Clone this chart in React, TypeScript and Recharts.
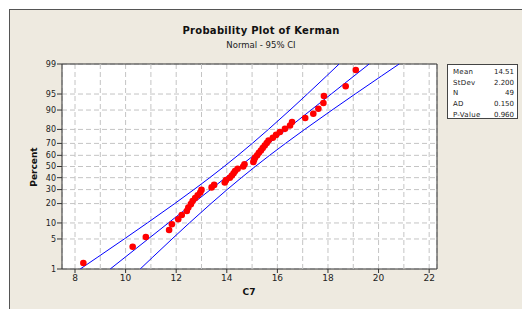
import React from "react";
import {
  ComposedChart,
  XAxis,
  YAxis,
  CartesianGrid,
  Line,
  Scatter,
  ReferenceLine,
  ReferenceArea,
} from "recharts";

// ---- data ----
const samplePercents = [
  1.42, 3.44, 5.47, 7.49, 9.51, 11.54, 13.56, 15.59, 17.61, 19.64, 21.66, 23.68,
  25.71, 27.73, 29.76, 31.78, 33.81, 35.83, 37.85, 39.88, 41.9, 43.93, 45.95,
  47.98, 50.0, 52.02, 54.05, 56.07, 58.1, 60.12, 62.15, 64.17, 66.19, 68.22,
  70.24, 72.27, 74.29, 76.32, 78.34, 80.36, 82.39, 84.41, 86.44, 88.46, 90.49,
  92.51, 94.53, 96.56, 98.58,
];
const sampleValues = [
  8.33, 10.28, 10.8, 11.72, 11.83, 12.08, 12.22, 12.42, 12.48, 12.58, 12.65,
  12.75, 12.85, 12.95, 13.0, 13.4, 13.5, 13.92, 13.97, 14.12, 14.2, 14.27,
  14.33, 14.43, 14.65, 14.7, 15.05, 15.08, 15.12, 15.2, 15.27, 15.35, 15.42,
  15.5, 15.58, 15.65, 15.82, 15.95, 16.1, 16.3, 16.5, 16.58, 17.1, 17.42,
  17.62, 17.82, 17.84, 18.7, 19.1,
];

const linePercents = [1, 2, 5, 10, 20, 30, 40, 50, 60, 70, 80, 90, 95, 98, 99];
const fitValues = [
  9.392, 9.992, 10.891, 11.69, 12.658, 13.356, 13.953, 14.51, 15.067, 15.664,
  16.362, 17.33, 18.129, 19.028, 19.628,
];
const lowerValues = [
  8.206, 8.906, 9.946, 10.859, 11.941, 12.699, 13.327, 13.894, 14.441, 15.007,
  15.645, 16.499, 17.184, 17.942, 18.442,
];
const upperValues = [
  10.578, 11.078, 11.836, 12.521, 13.375, 14.013, 14.579, 15.126, 15.693,
  16.321, 17.079, 18.161, 19.074, 20.114, 20.814,
];

const yTickPercents = [1, 5, 10, 20, 30, 40, 50, 60, 70, 80, 90, 95, 99];
const xTicks = [8, 10, 12, 14, 16, 18, 20, 22];
const xGridValues = [9, 11, 13, 15, 17, 19, 21];
const xDomain = [7.486, 22.31];

const statLabels = ["Mean", "StDev", "N", "AD", "P-Value"];
const statValues = ["14.51", "2.200", "49", "0.150", "0.960"];

// ---- normal probability scale (inverse normal CDF, Acklam) ----
function invNorm(p: number): number {
  const a = [-3.969683028665376e1, 2.209460984245205e2, -2.759285104469687e2, 1.38357751867269e2, -3.066479806614716e1, 2.506628277459239];
  const b = [-5.447609879822406e1, 1.615858368580409e2, -1.556989798598866e2, 6.680131188771972e1, -1.328068155288572e1];
  const c = [-7.784894002430293e-3, -3.223964580411365e-1, -2.400758277161838, -2.549732539343734, 4.374664141464968, 2.938163982698783];
  const d = [7.784695709041462e-3, 3.224671290700398e-1, 2.445134137142996, 3.754408661907416];
  const pl = 0.02425;
  let q: number, r: number;
  if (p < pl) {
    q = Math.sqrt(-2 * Math.log(p));
    return (((((c[0] * q + c[1]) * q + c[2]) * q + c[3]) * q + c[4]) * q + c[5]) /
      ((((d[0] * q + d[1]) * q + d[2]) * q + d[3]) * q + 1);
  }
  if (p <= 1 - pl) {
    q = p - 0.5;
    r = q * q;
    return ((((((a[0] * r + a[1]) * r + a[2]) * r + a[3]) * r + a[4]) * r + a[5]) * q) /
      (((((b[0] * r + b[1]) * r + b[2]) * r + b[3]) * r + b[4]) * r + 1);
  }
  q = Math.sqrt(-2 * Math.log(1 - p));
  return -(((((c[0] * q + c[1]) * q + c[2]) * q + c[3]) * q + c[4]) * q + c[5]) /
    ((((d[0] * q + d[1]) * q + d[2]) * q + d[3]) * q + 1);
}
const zOf = (pct: number) => invNorm(pct / 100);

const points = sampleValues.map((x, i) => ({ x, z: zOf(samplePercents[i]) }));
const fitLine = fitValues.map((x, i) => ({ x, z: zOf(linePercents[i]) }));
const lowerLine = lowerValues.map((x, i) => ({ x, z: zOf(linePercents[i]) }));
const upperLine = upperValues.map((x, i) => ({ x, z: zOf(linePercents[i]) }));
const yTicks = yTickPercents.map(zOf);
const yDomain = [zOf(1), zOf(99)];

const yLabel = (v: number) => {
  let best = 0;
  let bd = Infinity;
  yTicks.forEach((t, i) => {
    const dd = Math.abs(t - v);
    if (dd < bd) {
      bd = dd;
      best = i;
    }
  });
  return String(yTickPercents[best]);
};

const FONT = "'DejaVu Sans', Verdana, sans-serif";
const TXT = "#222";

const Dot = (props: any) => {
  const { cx, cy } = props;
  if (cx == null || cy == null) return null;
  return <circle cx={cx} cy={cy} r={3.3} fill="#FF0000" />;
};

export default function App() {
  return (
    <div
      style={{
        position: "absolute",
        left: 0,
        top: 0,
        width: 522,
        height: 309,
        background: "#ffffff",
        overflow: "hidden",
        fontFamily: FONT,
      }}
    >
      <div
        style={{
          position: "absolute",
          left: 9,
          top: 9,
          width: 530,
          height: 320,
          background: "#EEEAE0",
          borderLeft: "1px solid #555",
          borderTop: "1px solid #555",
        }}
      />
      <div style={{ position: "absolute", left: 0, top: 0 }}>
        <ComposedChart
          width={522}
          height={309}
          margin={{ top: 64, right: 85, bottom: 0, left: 0 }}
        >
          <CartesianGrid
            fill="#ffffff"
            fillOpacity={1}
            stroke="#c4c4c4"
            strokeDasharray="5 3"
            vertical={true}
          />
          {xGridValues.map((v) => (
            <ReferenceLine
              key={v}
              x={v}
              stroke="#c4c4c4"
              strokeDasharray="5 3"
            />
          ))}
          <XAxis
            type="number"
            dataKey="x"
            domain={xDomain}
            allowDataOverflow
            ticks={xTicks}
            interval={0}
            height={40}
            tickSize={4}
            tickMargin={2}
            axisLine={false}
            tickLine={{ stroke: "#333" }}
            tick={{ fontSize: 9, fill: TXT, fontFamily: FONT }}
          />
          <YAxis
            type="number"
            dataKey="z"
            domain={yDomain}
            allowDataOverflow
            ticks={yTicks}
            interval={0}
            width={62}
            tickSize={5}
            tickMargin={1}
            axisLine={false}
            tickLine={{ stroke: "#333" }}
            tickFormatter={yLabel}
            tick={{ fontSize: 8, fill: TXT, fontFamily: FONT }}
          />
          <Line
            data={lowerLine}
            dataKey="z"
            type="linear"
            stroke="#0000FF"
            strokeWidth={1}
            dot={false}
            activeDot={false}
            isAnimationActive={false}
          />
          <Line
            data={fitLine}
            dataKey="z"
            type="linear"
            stroke="#0000FF"
            strokeWidth={1}
            dot={false}
            activeDot={false}
            isAnimationActive={false}
          />
          <Line
            data={upperLine}
            dataKey="z"
            type="linear"
            stroke="#0000FF"
            strokeWidth={1}
            dot={false}
            activeDot={false}
            isAnimationActive={false}
          />
          <Scatter
            data={points}
            dataKey="z"
            shape={<Dot />}
            isAnimationActive={false}
          />
          <ReferenceArea
            x1={xDomain[0]}
            x2={xDomain[1]}
            y1={yDomain[0]}
            y2={yDomain[1]}
            fill="none"
            fillOpacity={0}
            stroke="#333"
            strokeWidth={1}
            ifOverflow="visible"
          />
        </ComposedChart>
      </div>
      {/* titles */}
      <div
        style={{
          position: "absolute",
          left: 0,
          width: 522,
          top: 25,
          textAlign: "center",
          fontSize: 10,
          fontWeight: "bold",
          letterSpacing: 0.3,
          color: "#111",
          lineHeight: "12px",
        }}
      >
        Probability Plot of Kerman
      </div>
      <div
        style={{
          position: "absolute",
          left: 0,
          width: 522,
          top: 40,
          textAlign: "center",
          fontSize: 8.5,
          color: "#222",
          lineHeight: "11px",
        }}
      >
        Normal - 95% CI
      </div>
      {/* axis titles */}
      <div
        style={{
          position: "absolute",
          left: 199,
          width: 100,
          top: 287,
          textAlign: "center",
          fontSize: 9,
          fontWeight: "bold",
          color: "#111",
          lineHeight: "11px",
        }}
      >
        C7
      </div>
      <div
        style={{
          position: "absolute",
          left: 34,
          top: 167,
          width: 0,
          height: 0,
        }}
      >
        <div
          style={{
            position: "absolute",
            left: -50,
            top: -6,
            width: 100,
            textAlign: "center",
            fontSize: 9,
            fontWeight: "bold",
            color: "#111",
            lineHeight: "12px",
            transform: "rotate(-90deg)",
          }}
        >
          Percent
        </div>
      </div>
      {/* stats box */}
      <div
        style={{
          position: "absolute",
          left: 447,
          top: 64,
          width: 71,
          height: 55,
          background: "#fff",
          border: "1px solid #444",
          boxSizing: "border-box",
          padding: "2px 3px 0 5px",
          fontSize: 7,
          color: "#222",
        }}
      >
        {statLabels.map((l, i) => (
          <div
            key={l}
            style={{
              display: "flex",
              justifyContent: "space-between",
              height: 10.7,
              lineHeight: "10.7px",
            }}
          >
            <span style={{ letterSpacing: 0.3 }}>{l}</span>
            <span>{statValues[i]}</span>
          </div>
        ))}
      </div>
    </div>
  );
}
